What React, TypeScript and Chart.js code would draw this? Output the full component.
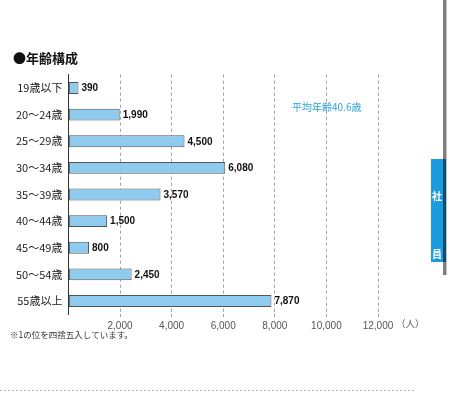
import React, { useEffect, useRef } from "react";
import { Chart, registerables } from "chart.js";

Chart.register(...registerables);

const categories = ["19歳以下", "20～24歳", "25～29歳", "30～34歳", "35～39歳", "40～44歳", "45～49歳", "50～54歳", "55歳以上"];
const counts = [390, 1990, 4500, 6080, 3570, 1500, 800, 2450, 7870];
const xTicks = [2000, 4000, 6000, 8000, 10000, 12000];
const titleText = "●年齢構成";
const averageText = "平均年齢40.6歳";
const unitText = "（人）";
const noteText = "※1の位を四捨五入しています。";
const tabChars = ["社", "員"];

const JP = '"Noto Sans CJK JP", "Noto Sans", sans-serif';

const decorPlugin = {
  id: "decor",
  beforeDraw(chart: any) {
    const ctx = chart.ctx;
    ctx.save();
    // blue side tab
    ctx.fillStyle = "#1b9be0";
    ctx.fillRect(431, 159, 15, 103);
    ctx.fillStyle = "#ffffff";
    ctx.font = `bold 10px ${JP}`;
    ctx.textAlign = "center";
    ctx.textBaseline = "middle";
    ctx.fillText(tabChars[0], 437, 196);
    ctx.fillText(tabChars[1], 437, 254);
    // gray side line
    ctx.fillStyle = "rgba(0,0,0,0.5)";
    ctx.fillRect(443, 0, 3.5, 275);
    // bottom dashed line
    ctx.strokeStyle = "#b5b5b5";
    ctx.lineWidth = 1;
    ctx.setLineDash([2, 2]);
    ctx.beginPath();
    ctx.moveTo(0, 390.5);
    ctx.lineTo(416, 390.5);
    ctx.stroke();
    ctx.setLineDash([]);
    // title
    ctx.fillStyle = "#111";
    ctx.font = `bold 13px ${JP}`;
    ctx.textAlign = "left";
    ctx.fillText(titleText, 13, 58);
    // note
    ctx.fillStyle = "#333";
    ctx.font = `8.5px ${JP}`;
    ctx.fillText(noteText, 10, 335);
    // unit
    ctx.fillStyle = "#555";
    ctx.font = `9.5px ${JP}`;
    ctx.fillText(unitText, 396, 323);
    // average
    ctx.fillStyle = "#2aa3dc";
    ctx.font = `10px ${JP}`;
    ctx.fillText(averageText, 292, 107);
    ctx.restore();
  },
  afterDatasetsDraw(chart: any) {
    const ctx = chart.ctx;
    const meta = chart.getDatasetMeta(0);
    ctx.save();
    ctx.fillStyle = "#111";
    ctx.font = `bold 10px Arial, "Liberation Sans", sans-serif`;
    ctx.textAlign = "left";
    ctx.textBaseline = "middle";
    meta.data.forEach((bar: any, i: number) => {
      ctx.fillText(counts[i].toLocaleString("en-US"), bar.x + 3, bar.y + 0.5);
    });
    ctx.restore();
  },
};

export default function App() {
  const ref = useRef<HTMLCanvasElement>(null);
  useEffect(() => {
    const chart = new Chart(ref.current!, {
      type: "bar",
      data: {
        labels: categories,
        datasets: [
          {
            data: counts,
            backgroundColor: "#8ecbef",
            borderColor: "#555",
            borderWidth: 1,
            borderSkipped: false,
            barPercentage: 0.9,
            categoryPercentage: 0.5,
          },
        ],
      },
      options: {
        indexAxis: "y",
        animation: false,
        responsive: false,
        maintainAspectRatio: false,
        layout: { padding: { top: 74.7, right: 72, left: 0, bottom: 0 } },
        plugins: { legend: { display: false }, tooltip: { enabled: false } },
        scales: {
          x: {
            min: 0,
            max: 12000,
            afterFit: (s: any) => {
              s.height = 396 - 74.7 - 239.6;
            },
            afterBuildTicks: (s: any) => {
              s.ticks = [{ value: 0 }, ...xTicks.map((v) => ({ value: v }))];
            },
            border: { display: false, dash: [3, 3] },
            grid: {
              color: (c: any) => (c.tick && c.tick.value === 0 ? "rgba(0,0,0,0)" : "#a0a0a0"),
              lineWidth: 1,
              tickLength: 3,
              tickColor: (c: any) => (c.tick && c.tick.value === 0 ? "rgba(0,0,0,0)" : "#a0a0a0"),
              tickBorderDash: [3, 3],
            },
            ticks: {
              padding: 3,
              color: "#555",
              font: { family: "Arial, 'Liberation Sans', sans-serif", size: 10 },
              callback: (v: any) => (v === 0 ? "" : Number(v).toLocaleString("en-US")),
              maxRotation: 0,
              autoSkip: false,
            },
          } as any,
          y: {
            afterFit: (s: any) => {
              s.width = 68.4;
            },
            border: { display: true, color: "#333", width: 1 },
            grid: { display: false, drawTicks: false },
            ticks: {
              padding: 6,
              color: "#222",
              font: { family: JP, size: 11 },
            },
          },
        },
      } as any,
      plugins: [decorPlugin],
    });
    return () => chart.destroy();
  }, []);
  return (
    <div style={{ position: "fixed", left: 0, top: 0, width: 450, height: 396, background: "#fff" }}>
      <canvas ref={ref} width={450} height={396} style={{ width: 450, height: 396 }} />
    </div>
  );
}
